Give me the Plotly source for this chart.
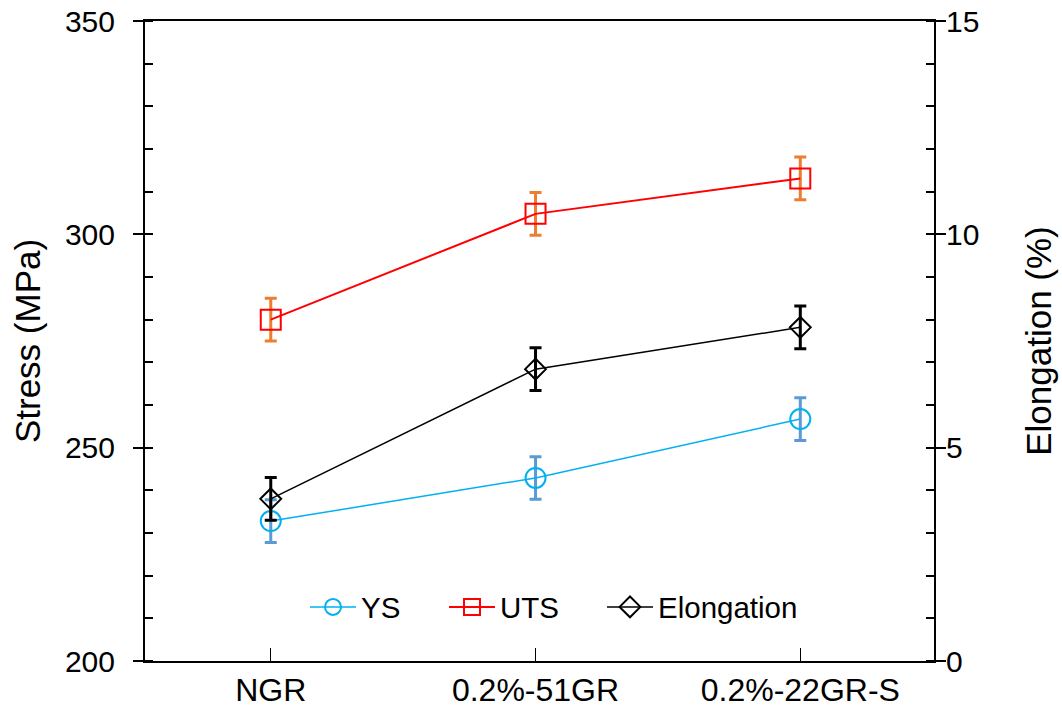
import plotly.graph_objects as go

categories = ["NGR", "0.2%-51GR", "0.2%-22GR-S"]
ys = [232.8, 242.9, 256.7]
ys_err = [5, 5, 5]
uts = [280.0, 304.8, 313.1]
uts_err = [5, 5, 5]
elong = [3.80, 6.84, 7.82]
elong_err = [0.5, 0.5, 0.5]

FONT = "Liberation Sans, Arial, sans-serif"

fig = go.Figure()
fig.add_trace(go.Scatter(
    x=categories, y=ys, name="YS", mode="lines+markers", legend="legend",
    line=dict(color="#00B0F0", width=1.5),
    marker=dict(symbol="circle-open", size=20, color="#00B0F0", line=dict(width=2)),
    error_y=dict(type="data", array=ys_err, color="#5B9BD5", thickness=3, width=6),
))
fig.add_trace(go.Scatter(
    x=categories, y=uts, name="UTS", mode="lines+markers", legend="legend2",
    line=dict(color="#FF0000", width=2),
    marker=dict(symbol="square-open", size=20, color="#FF0000", line=dict(width=2)),
    error_y=dict(type="data", array=uts_err, color="#ED7D31", thickness=3, width=6),
))
fig.add_trace(go.Scatter(
    x=categories, y=elong, name="Elongation", mode="lines+markers", yaxis="y2", legend="legend3",
    line=dict(color="#000000", width=1.5),
    marker=dict(symbol="diamond-open", size=16, color="#000000", line=dict(width=2)),
    error_y=dict(type="data", array=elong_err, color="#000000", thickness=3, width=6),
))

def leg(xpx):
    return dict(orientation="h", x=(xpx - 145) / 789, y=0.084, xanchor="left", yanchor="middle",
                font=dict(family=FONT, size=29.5, color="black"), bgcolor="rgba(0,0,0,0)",
                itemwidth=46)

axis_common = dict(showgrid=False, zeroline=False, showline=True, linecolor="black",
                   linewidth=2, tickcolor="black", automargin=False, ticklabeloverflow="allow")

fig.update_layout(
    width=1062, height=717,
    margin=dict(l=145, r=128, t=21, b=56),
    paper_bgcolor="white", plot_bgcolor="white",
    font=dict(family=FONT, color="black"),
    showlegend=True,
    legend=leg(305),
    legend2=leg(444),
    legend3=leg(602),
    xaxis=dict(type="category", range=[-0.475, 2.505], ticks="inside", ticklen=13, tickwidth=1,
               mirror=True, tickfont=dict(family=FONT, size=32, color="black"), **axis_common),
    yaxis=dict(range=[200, 350], dtick=50, tick0=200, ticks="outside", ticklen=10, tickwidth=2,
               ticklabelstandoff=12,
               tickfont=dict(family=FONT, size=30, color="black"),
               minor=dict(ticks="inside", dtick=10, ticklen=8, tickwidth=1.5, tickcolor="black"),
               title=dict(text="Stress (MPa)", font=dict(family=FONT, size=35, color="black"), standoff=14),
               **axis_common),
    yaxis2=dict(range=[0, 15], dtick=5, tick0=0, ticks="outside", ticklen=10, tickwidth=2,
                overlaying="y", side="right", ticklabelstandoff=-6,
                tickfont=dict(family=FONT, size=30, color="black"),
                minor=dict(ticks="inside", dtick=1, ticklen=8, tickwidth=1.5, tickcolor="black"),
                title=dict(text="Elongation (%)", font=dict(family=FONT, size=35, color="black"), standoff=48),
                **axis_common),
)

fig.write_html("out.html", config={"displayModeBar": False},
               post_script="document.body.style.margin='0';")
